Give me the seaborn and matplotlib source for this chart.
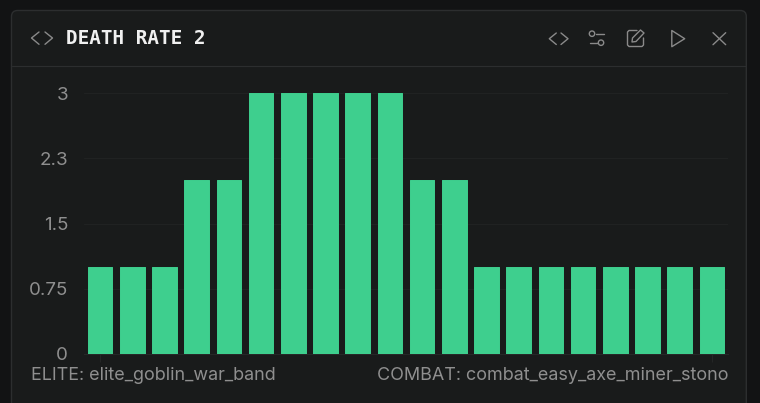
import matplotlib
matplotlib.use("Agg")
import matplotlib.pyplot as plt
import seaborn as sns
import pandas as pd
from matplotlib.patches import FancyBboxPatch, Circle, Polygon
from matplotlib.lines import Line2D

# data
positions = list(range(20))
values = [1, 1, 1, 2, 2, 3, 3, 3, 3, 3, 2, 2, 1, 1, 1, 1, 1, 1, 1, 1]
tick_values = [0, 0.75, 1.5, 2.25, 3]
tick_labels = ["0", "0.75", "1.5", "2.3", "3"]
title = "DEATH RATE 2"
first_label = "ELITE: elite_goblin_war_band"
last_label = "COMBAT: combat_easy_axe_miner_stono"

OUTER = "#121314"
PANEL = "#191b1b"
BORDER = "#2c2e2f"
GRID = "#202222"
TEXT = "#8f8f8f"
ICON = "#8a8a8a"
BAR = "#3ecf8e"

W, H = 760, 403
sns.set_theme(style="dark")
plt.rcParams["font.family"] = ["Inter", "DejaVu Sans"]

fig = plt.figure(figsize=(W / 100, H / 100), dpi=100, facecolor=OUTER)

# overlay in pixel coordinates for the card chrome
bg = fig.add_axes([0, 0, 1, 1], zorder=0)
bg.set_xlim(0, W)
bg.set_ylim(H, 0)
bg.axis("off")
bg.add_patch(FancyBboxPatch((11.5, 10.5), 734.8, 400, boxstyle="round,pad=0,rounding_size=6",
                            fc=PANEL, ec=BORDER, lw=1.0))
bg.add_line(Line2D([12, 746], [65.5, 65.5], color=BORDER, lw=0.8))


def icon_line(xs, ys):
    bg.add_line(Line2D(xs, ys, color=ICON, lw=1.0, solid_capstyle="round", solid_joinstyle="round"))


icon_line([39, 31.5, 39], [32, 38, 44.3])
icon_line([45, 52.5, 45], [32, 38, 44.3])
icon_line([556.3, 549.3, 556.3], [33, 38.7, 44.5])
icon_line([561, 568, 561], [33, 38.7, 44.5])
icon_line([595.5, 604], [33.7, 33.7])
icon_line([590, 598], [42.7, 42.7])
bg.add_patch(Circle((592, 33.7), 2.7, fc="none", ec=ICON, lw=1.0))
bg.add_patch(Circle((601, 42.7), 2.7, fc="none", ec=ICON, lw=1.0))
icon_line([637, 629, 627.5, 627.5, 629, 642, 643.5, 643.5],
          [30.5, 30.5, 32, 45, 46.5, 46.5, 45, 38])
bg.add_patch(Polygon([(632, 42), (632.5, 38), (640.5, 30), (644, 33), (636, 41.5)], closed=True,
                     fc="none", ec=ICON, lw=1.0, joinstyle="round"))
bg.add_patch(Polygon([(671.8, 30.5), (684.7, 38.7), (671.8, 46.7)], closed=True,
                     fc="none", ec=ICON, lw=1.0, joinstyle="round"))
icon_line([713, 725.7], [32.7, 44.7])
icon_line([725.7, 713], [32.7, 44.7])

bg.text(65.5, 38.5, title, color="#f0f0f0", fontsize=13.9, fontweight="bold",
        family=["DejaVu Sans Mono"], ha="left", va="center")
bg.text(31, 376, first_label, color=TEXT, fontsize=12.95, ha="left", va="center")
bg.text(728.5, 376, last_label, color=TEXT, fontsize=12.95, ha="right", va="center")

# chart
ax = fig.add_axes([84 / W, 1 - 354 / H, 644 / W, 261 / H], zorder=1)
ax.patch.set_alpha(0)
df = pd.DataFrame({"x": positions, "v": values})
sns.barplot(data=df, x="x", y="v", color=BAR, saturation=1, width=0.765, ax=ax, zorder=3,
            edgecolor=BAR, linewidth=0.7)
for p in ax.patches:
    p.set_joinstyle("round")
ax.set_xlim(-0.5, 19.5)
ax.set_ylim(0, 3)
ax.set_xlabel("")
ax.set_ylabel("")
ax.set_xticks([0, 19])
ax.set_xticklabels(["", ""])
ax.set_yticks(tick_values)
ax.set_yticklabels(tick_labels)
ax.tick_params(axis="y", length=0, pad=11.5, labelsize=13.5, labelcolor=TEXT, left=False)
ax.tick_params(axis="x", length=6, width=0.8, color="#242626", bottom=True)
ax.grid(True, axis="y", color=GRID, lw=0.8, zorder=0)
ax.grid(False, axis="x")
for s in ["top", "left", "right"]:
    ax.spines[s].set_visible(False)
ax.spines["bottom"].set_color("#262828")
ax.spines["bottom"].set_linewidth(0.8)

fig.savefig("out.png", dpi=100, facecolor=OUTER)
